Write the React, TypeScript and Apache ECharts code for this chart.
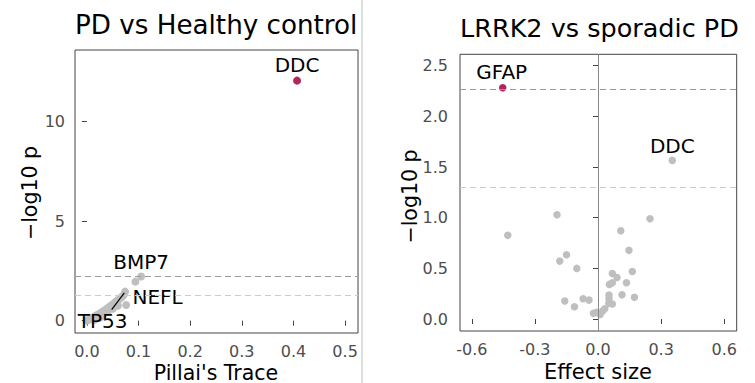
import React, { useEffect, useRef } from 'react';
import * as echarts from 'echarts';

// ---- Panel A: PD vs Healthy control ----
const pdHcHitNames = ['DDC'];
const pdHcHitTrace = [0.407];
const pdHcHitLogP = [12.06];

const pdHcNames = ['BMP7', '', 'TP53', 'NEFL',
  '', '', '', '', '', '', '', '', '', '', '', '', '', '', '', '', '', '', '', '', '', '', '', '', '', '', '', '', '', '', '', '', '', ''];
const pdHcTrace = [0.105, 0.094, 0.074, 0.076,
  0.000, 0.002, 0.004, 0.006, 0.008, 0.010, 0.012, 0.014, 0.016, 0.018, 0.020, 0.023, 0.026, 0.029,
  0.032, 0.035, 0.038, 0.041, 0.044, 0.047, 0.050, 0.053, 0.056, 0.059, 0.062, 0.065, 0.068, 0.071,
  0.030, 0.040, 0.050, 0.060, 0.015, 0.025];
const pdHcLogP = [2.22, 1.96, 1.46, 0.79,
  0.00, 0.03, 0.05, 0.08, 0.10, 0.12, 0.16, 0.18, 0.22, 0.25, 0.28, 0.32, 0.37, 0.42,
  0.48, 0.53, 0.58, 0.64, 0.70, 0.76, 0.82, 0.88, 0.95, 1.01, 1.07, 1.13, 1.20, 1.28,
  0.25, 0.45, 0.60, 0.75, 0.05, 0.15];
const pdHcThresholds = [2.22, 1.3];
const pdHcXTicks = [0, 0.1, 0.2, 0.3, 0.4, 0.5];
const pdHcYTicks = [0, 5, 10];

// ---- Panel B: LRRK2 vs sporadic PD ----
const lrrkHitNames = ['GFAP'];
const lrrkHitEffect = [-0.453];
const lrrkHitLogP = [2.283];

const lrrkNames = ['DDC', '', '', '', '', '', '', '', '', '', '', '', '', '', '', '', '', '', '', '', '', '', '', '', '', '', '', '', '', ''];
const lrrkEffect = [0.353, -0.195, -0.429, 0.247, 0.108, 0.147, -0.150, -0.182, -0.101, 0.163,
  0.068, 0.090, 0.068, 0.054, 0.135, 0.052, 0.052, 0.114, 0.173, -0.158,
  -0.071, -0.043, -0.112, 0.051, 0.068, -0.022, -0.006, 0.010, 0.022, 0.032];
const lrrkLogP = [1.566, 1.03, 0.826, 0.99, 0.872, 0.678, 0.635, 0.572, 0.50, 0.47,
  0.45, 0.41, 0.359, 0.342, 0.359, 0.237, 0.204, 0.24, 0.214, 0.178,
  0.20, 0.187, 0.122, 0.155, 0.148, 0.056, 0.066, 0.046, 0.079, 0.102];
const lrrkThresholds = [2.27, 1.3];
const lrrkXTicks = [-0.6, -0.3, 0, 0.3, 0.6];
const lrrkYTicks = [0, 0.5, 1, 1.5, 2, 2.5];

// label placement (style only)
const labelOffsets: Record<string, [number, number]> = {
  DDC: [0, -15.5],
  BMP7: [0, -14.5],
  NEFL: [31.5, -8],
  TP53: [-22.5, 29.5],
  GFAP: [-1, -15.3],
};
const lrrkLabelOffsets: Record<string, [number, number]> = {
  DDC: [0, -14],
};

const FONT = '"DejaVu Sans", sans-serif';
const GRAY = '#bfbfbf';
const HIT = '#b3245d';

function makeData(names: string[], xs: number[], ys: number[], offsets: Record<string, [number, number]>) {
  return xs.map((x, i) => {
    const name = names[i] || '';
    const off = name ? offsets[name] : undefined;
    const item: any = { name, value: [x, ys[i]] };
    if (off) {
      item.label = {
        show: true,
        position: 'inside',
        offset: off,
        formatter: '{b}',
        fontSize: 20,
        fontFamily: FONT,
        color: '#000',
        align: 'center',
        verticalAlign: 'middle',
      };
    }
    return item;
  });
}

const axisCommon = {
  axisLine: { show: false },
  axisTick: { show: true, length: 5, lineStyle: { color: '#444', width: 1 } },
  splitLine: { show: false },
};

export default function App() {
  const ref = useRef<HTMLDivElement>(null);
  useEffect(() => {
    if (!ref.current) return;
    const chart = echarts.init(ref.current, undefined, { renderer: 'svg' });
    const tickLabel = { color: '#4d4d4d', fontSize: 16, fontFamily: FONT };
    const option: any = {
      animation: false,
      backgroundColor: '#fff',
      grid: [
        { left: 75, top: 50, width: 283, height: 283, show: true, borderColor: '#444', borderWidth: 1, backgroundColor: 'transparent' },
        { left: 460, top: 54.3, width: 276.7, height: 276.7, show: true, borderColor: '#444', borderWidth: 1, backgroundColor: 'transparent' },
      ],
      xAxis: [
        {
          ...axisCommon, type: 'value', gridIndex: 0, min: -0.023, max: 0.525,
          axisTick: { ...axisCommon.axisTick, customValues: pdHcXTicks },
          axisLabel: { ...tickLabel, margin: 10, customValues: pdHcXTicks, formatter: (v: number) => v.toFixed(1) },
        },
        {
          ...axisCommon, type: 'value', gridIndex: 1, min: -0.656, max: 0.659,
          axisTick: { ...axisCommon.axisTick, customValues: lrrkXTicks },
          axisLabel: { ...tickLabel, margin: 10, customValues: lrrkXTicks, formatter: (v: number) => v.toFixed(1) },
        },
      ],
      yAxis: [
        {
          ...axisCommon, type: 'value', gridIndex: 0, min: -0.62, max: 13.6,
          axisTick: { ...axisCommon.axisTick, customValues: pdHcYTicks },
          axisLabel: { ...tickLabel, margin: 10, customValues: pdHcYTicks, formatter: (v: number) => String(v) },
        },
        {
          ...axisCommon, type: 'value', gridIndex: 1, min: -0.118, max: 2.613,
          axisTick: { ...axisCommon.axisTick, customValues: lrrkYTicks },
          axisLabel: { ...tickLabel, margin: 12, customValues: lrrkYTicks, formatter: (v: number) => v.toFixed(1) },
        },
      ],
      series: [
        {
          type: 'scatter', xAxisIndex: 0, yAxisIndex: 0, symbolSize: 8, silent: true,
          itemStyle: { color: GRAY, opacity: 1 },
          data: makeData(pdHcNames, pdHcTrace, pdHcLogP, labelOffsets),
          markLine: {
            silent: true, symbol: 'none', label: { show: false }, animation: false,
            data: [
              { yAxis: pdHcThresholds[0], lineStyle: { color: '#9a9a9a', type: [6, 4], width: 1.2 } },
              { yAxis: pdHcThresholds[1], lineStyle: { color: '#cccccc', type: [6, 4], width: 1.2 } },
              [
                { coord: [0.048, 0.55], lineStyle: { color: '#000', type: 'solid', width: 1.2 } },
                { coord: [0.0725, 1.40] },
              ],
            ],
          },
          z: 2,
        },
        {
          type: 'scatter', xAxisIndex: 0, yAxisIndex: 0, symbolSize: 8, silent: true,
          itemStyle: { color: HIT, opacity: 1 },
          data: makeData(pdHcHitNames, pdHcHitTrace, pdHcHitLogP, labelOffsets),
          z: 3,
        },
        {
          type: 'scatter', xAxisIndex: 1, yAxisIndex: 1, symbolSize: 7.5, silent: true,
          itemStyle: { color: GRAY, opacity: 1 },
          data: makeData(lrrkNames, lrrkEffect, lrrkLogP, lrrkLabelOffsets),
          markLine: {
            silent: true, symbol: 'none', label: { show: false }, animation: false,
            data: [
              { yAxis: lrrkThresholds[0], lineStyle: { color: '#9a9a9a', type: [6, 4], width: 1.2 } },
              { yAxis: lrrkThresholds[1], lineStyle: { color: '#cccccc', type: [6, 4], width: 1.2 } },
              { xAxis: 0, lineStyle: { color: '#8a8a8a', type: 'solid', width: 1 } },
            ],
          },
          z: 2,
        },
        {
          type: 'scatter', xAxisIndex: 1, yAxisIndex: 1, symbolSize: 7.5, silent: true,
          itemStyle: { color: HIT, opacity: 1 },
          data: makeData(lrrkHitNames, lrrkHitEffect, lrrkHitLogP, labelOffsets),
          z: 3,
        },
      ],
      graphic: [
        { type: 'line', shape: { x1: 362, y1: 0, x2: 362, y2: 383 }, style: { stroke: '#d4d4d4', lineWidth: 1.5 }, silent: true },
        { type: 'text', x: 75, y: 24.5, style: { text: 'PD vs Healthy control', fontSize: 26.2, fontFamily: FONT, fill: '#000', align: 'left', verticalAlign: 'middle' } },
        { type: 'text', x: 460, y: 27.5, style: { text: 'LRRK2 vs sporadic PD', fontSize: 25.5, fontFamily: FONT, fill: '#000', align: 'left', verticalAlign: 'middle' } },
        { type: 'text', x: 216, y: 372.5, style: { text: "Pillai's Trace", fontSize: 20.5, fontFamily: FONT, fill: '#000', align: 'center', verticalAlign: 'middle' } },
        { type: 'text', x: 598, y: 371.5, style: { text: 'Effect size', fontSize: 21, fontFamily: FONT, fill: '#000', align: 'center', verticalAlign: 'middle' } },
        { type: 'text', x: 29.5, y: 193, rotation: Math.PI / 2, style: { text: '\u2212log10 p', fontSize: 20.5, fontFamily: FONT, fill: '#000', align: 'center', verticalAlign: 'middle' } },
        { type: 'text', x: 410, y: 196.5, rotation: Math.PI / 2, style: { text: '\u2212log10 p', fontSize: 20.5, fontFamily: FONT, fill: '#000', align: 'center', verticalAlign: 'middle' } },
      ],
    };
    chart.setOption(option);
    return () => chart.dispose();
  }, []);
  return <div ref={ref} style={{ position: 'fixed', left: 0, top: 0, width: 755, height: 383 }} />;
}
